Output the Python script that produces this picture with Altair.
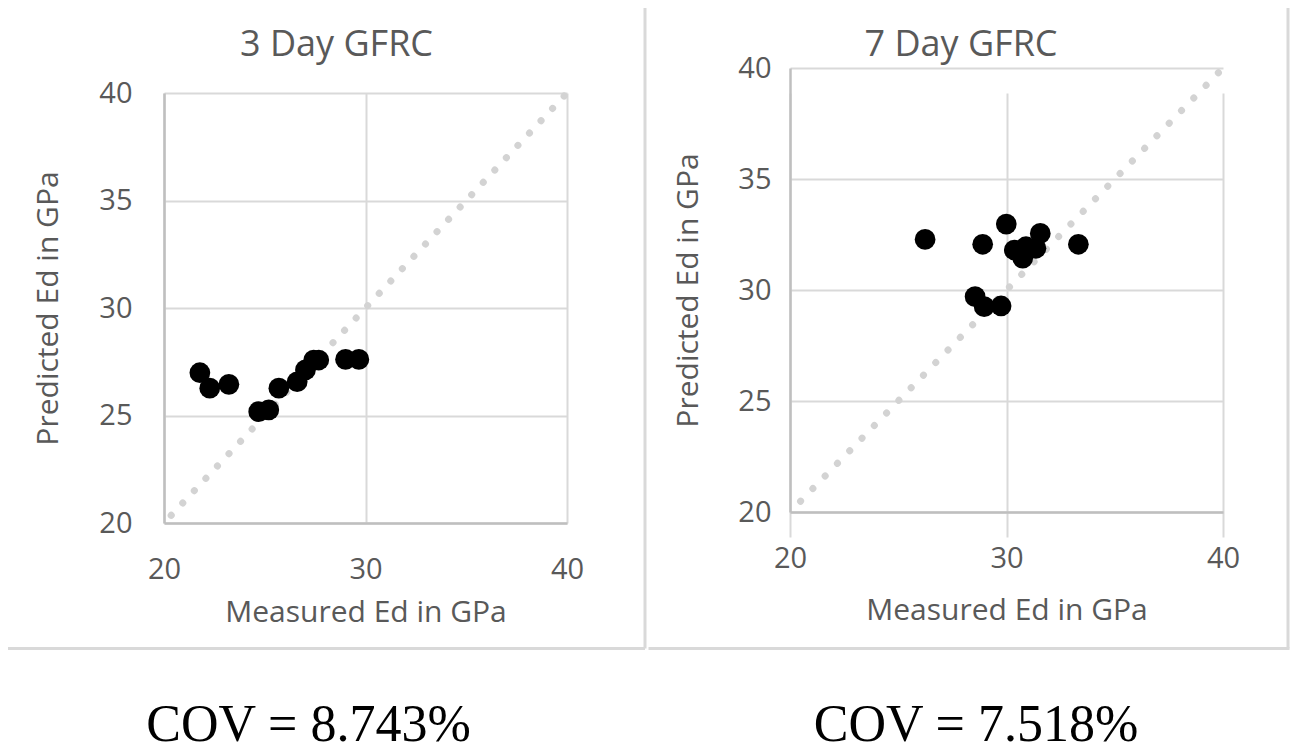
import altair as alt
import pandas as pd

# ---- data ----
# 3 Day GFRC
measured_3 = [21.78, 22.27, 23.22, 24.70, 25.20, 25.70, 26.61, 27.02, 27.43, 27.68, 29.01, 29.67]
predicted_3 = [26.99, 26.27, 26.45, 25.18, 25.26, 26.27, 26.57, 27.12, 27.58, 27.58, 27.61, 27.61]
# 7 Day GFRC
measured_7 = [26.24, 28.90, 29.99, 31.56, 33.32, 30.36, 30.75, 31.36, 30.90, 28.55, 28.97, 29.75]
predicted_7 = [32.28, 32.06, 32.97, 32.55, 32.06, 31.80, 31.43, 31.88, 31.95, 29.70, 29.25, 29.28]

line_of_equality = [20, 40]
axis_domain = [20, 40]
x_ticks = [20, 30, 40]
y_ticks = [20, 25, 30, 35, 40]
panel_titles = ["3 Day GFRC", "7 Day GFRC"]
cov_labels = ["COV = 8.743%", "COV = 7.518%"]
x_title = "Measured Ed in GPa"
y_title = "Predicted Ed in GPa"

TEXT = "#595959"
GRID = "#d9d9d9"
FONT = "Open Sans"


def panel(mx, py, title, cov, g):
    pts = pd.DataFrame({"m": mx, "p": py})
    diag = pd.DataFrame({"m": line_of_equality, "p": line_of_equality})
    one = pd.DataFrame({"k": [0]})

    xs = alt.Scale(domain=axis_domain, nice=False, zero=False)
    ys = alt.Scale(domain=axis_domain, nice=False, zero=False,
                   range=[g["h"], g["ytop"]])
    xaxis = alt.Axis(values=x_ticks, title=x_title, labelPadding=g["xlp"],
                     titlePadding=g["xtp"])
    yaxis = alt.Axis(values=y_ticks, title=y_title, labelPadding=g["ylp"],
                     titlePadding=g["ytp"])

    diag_layer = alt.Chart(diag).mark_line(
        color="#d3d3d3", strokeWidth=7, strokeCap="round",
        strokeDash=[0.1, g["dash"]], strokeDashOffset=g["dash_off"]
    ).encode(
        x=alt.X("m:Q", scale=xs, axis=xaxis),
        y=alt.Y("p:Q", scale=ys, axis=yaxis),
    )

    point_layer = alt.Chart(pts).mark_circle(size=430, color="black", opacity=1).encode(
        x="m:Q", y="p:Q"
    )

    fl, fr, ft, fb = g["frame"]
    rule = dict(color=GRID, strokeWidth=3, strokeCap=g["cap"])
    frame_layers = [
        alt.Chart(one).mark_rule(**rule).encode(
            x=alt.value(fl), x2=alt.value(fr), y=alt.value(ft)),
        alt.Chart(one).mark_rule(**rule).encode(
            x=alt.value(fl), x2=alt.value(fr), y=alt.value(fb)),
        alt.Chart(one).mark_rule(color=GRID, strokeWidth=3).encode(
            x=alt.value(fr), y=alt.value(ft), y2=alt.value(fb)),
    ]
    if g["left_side"]:
        frame_layers.append(alt.Chart(one).mark_rule(color=GRID, strokeWidth=3).encode(
            x=alt.value(fl), y=alt.value(ft), y2=alt.value(fb)))

    title_layer = alt.Chart(one).mark_text(
        text=title, font=FONT, fontSize=36, color=TEXT, align="center",
        baseline="alphabetic"
    ).encode(x=alt.value(g["title"][0]), y=alt.value(g["title"][1]))

    cov_layer = alt.Chart(one).mark_text(
        text=cov, font="Liberation Serif", fontSize=52, color="black",
        align="center", baseline="alphabetic"
    ).encode(x=alt.value(g["cov"][0]), y=alt.value(g["cov"][1]))

    return alt.layer(
        diag_layer, point_layer, *frame_layers, title_layer, cov_layer
    ).properties(width=g["w"], height=g["h"])


left = panel(measured_3, predicted_3, panel_titles[0], cov_labels[0], dict(
    w=403, h=430, ytop=0, xlp=32, xtp=13, ylp=32, ytp=35, dash=16.8, dash_off=6.4,
    frame=(-162, 481, -91.5, 555.5), left_side=True, cap="butt",
    title=(172.5, -37), cov=(144.5, 648)))

# right panel shares the row origin (page y 93) but its plot area starts 25 px higher
right = panel(measured_7, predicted_7, panel_titles[1], cov_labels[1], dict(
    w=433, h=419, ytop=-25, xlp=32, xtp=22, ylp=19, ytp=34, dash=17.5, dash_off=2.5,
    frame=(-140, 498, -90, 555.5), left_side=False, cap="square",
    title=(171, -37), cov=(186, 648)))

chart = alt.hconcat(left, right, spacing=0).properties(
    padding={"left": -8, "top": -8, "right": 0, "bottom": 0}
).configure_view(stroke=None).configure_axis(
    grid=True, gridColor=GRID, gridWidth=2,
    domainColor="#bfbfbf", domainWidth=2.5,
    ticks=False, tickSize=0,
    labelFont=FONT, labelFontSize=29, labelColor=TEXT,
    labelFlush=False, labelOverlap=False,
    titleFont=FONT, titleFontSize=30, titleFontWeight="normal", titleColor=TEXT,
)

chart.save("out.html", embed_options={"renderer": "svg", "actions": False})
